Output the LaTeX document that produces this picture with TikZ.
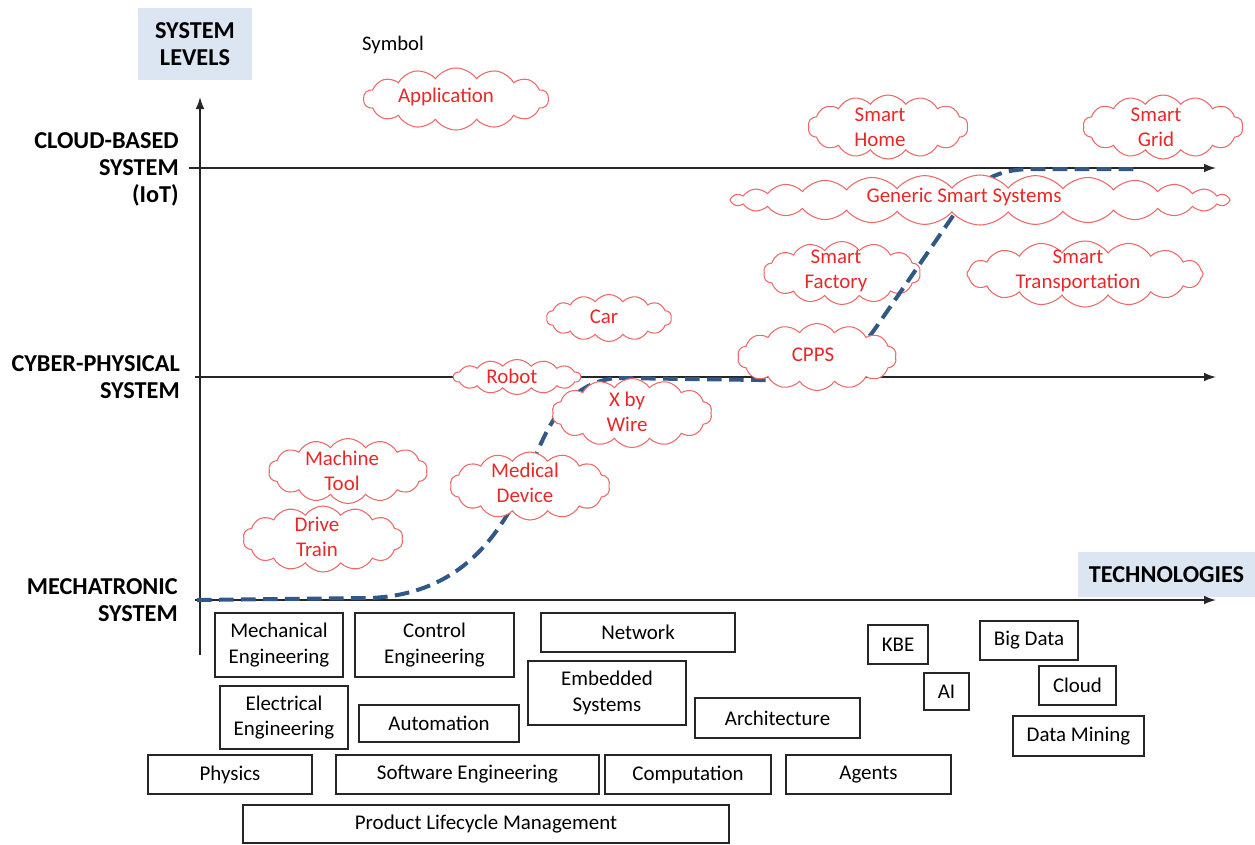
\documentclass[tikz,border=0pt]{standalone}
\usepackage{fontspec}
\setmainfont{Carlito}
\usetikzlibrary{shapes.symbols,arrows.meta}
\definecolor{cred}{RGB}{232,40,40}
\definecolor{cline}{RGB}{238,105,105}
\definecolor{curveblue}{RGB}{50,88,135}
\definecolor{lblue}{RGB}{220,230,242}
\begin{document}
\begin{tikzpicture}[x=0.75pt,y=-0.75pt,
  tbox/.style 2 args={draw=black!85, line width=0.9pt, minimum width=#1*0.75pt, minimum height=#2*0.75pt,
    inner sep=0pt, align=center, font=\fontsize{15.7}{19.3}\selectfont},
  cl/.style 2 args={cloud, cloud puffs=14, cloud puff arc=110, cloud ignores aspect, draw=cline, line width=0.8pt, fill=white,
    minimum width=#1*0.75pt, minimum height=#2*0.75pt, inner sep=0pt},
  ct/.style={text=cred, align=center, inner sep=0pt, font=\fontsize{15.7}{18.8}\selectfont},
  axlab/.style={anchor=east, align=right, inner sep=0pt, font=\bfseries\fontsize{18.2}{20.3}\selectfont},
  axis/.style={line width=1.1pt, black!85, -{Latex[length=9pt,width=6.5pt]}},
  hdr/.style 2 args={fill=lblue, minimum width=#1*0.75pt, minimum height=#2*0.75pt, inner sep=0pt, align=center,
    font=\bfseries\fontsize{18.2}{20.3}\selectfont},
  curve/.style={curveblue, line width=3pt, dash pattern=on 11pt off 5.5pt}
]
\useasboundingbox (0,0) rectangle (1255,844);

% headers
\node[hdr={114}{72}] (levels) at (195,44) {SYSTEM\\LEVELS};
\node[hdr={177}{45}] (tech) at (1166.5,574.5) {TECHNOLOGIES};
\node[inner sep=0pt, font=\fontsize{15.5}{18}\selectfont] (sym) at (393,45) {Symbol};

% axes
\coordinate (ybot) at (200,655);
\coordinate (ytop) at (200,97);
\coordinate (c0) at (189,168);
\coordinate (c1) at (1216,168);
\coordinate (p0) at (195,377);
\coordinate (p1) at (1216,377);
\coordinate (m0) at (195,600);
\coordinate (m1) at (1216,600);
\draw[axis] (ybot) -- (ytop);
\draw[axis] (c0) -- (c1);
\draw[axis] (p0) -- (p1);
\draw[axis] (m0) -- (m1);

\node[axlab] (lcloud) at (179,169) {CLOUD-BASED\\SYSTEM\\(IoT)};
\node[axlab] (lcps) at (180,377) {CYBER-PHYSICAL\\SYSTEM};
\node[axlab] (lmech) at (178,600) {MECHATRONIC\\SYSTEM};

% cloud under the curve
\node[cl={157}{63}] (sfac) at (842,273) {};
\node[ct] (sfact) at (836,271) {Smart\\Factory};

% dashed evolution curve
\draw[curve] (197,600) -- (370,598) .. controls (440,595) and (490,560) .. (525,480)
  .. controls (545,435) and (560,385) .. (615,378) -- (760,380)
  .. controls (820,381) and (850,365) .. (877,326) -- (955,213)
  .. controls (975,185) and (990,170) .. (1030,169) -- (1136,169);

% clouds
\node[cl={185}{62}] (app) at (456,99) {};
\node[ct] (appt) at (446,97) {Application};
\node[cl={160}{64}] (home) at (888,127) {};
\node[ct] (homet) at (880,127) {Smart\\Home};
\node[cl={160}{64}] (grid) at (1163,127) {};
\node[ct] (gridt) at (1156,127) {Smart\\Grid};
\node[cl={500}{50}, cloud puffs=28, cloud puff arc=100] (gen) at (980,200) {};
\node[ct] (gent) at (964,197) {Generic Smart Systems};
\node[cl={236}{66}, cloud puffs=16] (strans) at (1085,274) {};
\node[ct] (stranst) at (1078,271) {Smart\\Transportation};
\node[cl={125}{47}] (car) at (609,318) {};
\node[ct] (cart) at (604,317) {Car};
\node[cl={159}{67}] (cpps) at (817,357) {};
\node[ct] (cppst) at (813,355) {CPPS};
\node[cl={127}{35}, cloud puffs=14, cloud puff arc=100] (robot) at (517,377) {};
\node[ct] (robott) at (512,376) {Robot};
\node[cl={160}{69}] (xwire) at (632,413) {};
\node[ct] (xwiret) at (627,412) {X by\\Wire};
\node[cl={159}{65}] (mtool) at (348,471) {};
\node[ct] (mtoolt) at (342,471) {Machine\\Tool};
\node[cl={160}{68}] (med) at (530,486) {};
\node[ct] (medt) at (525,483) {Medical\\Device};
\node[cl={160}{66}] (drive) at (323,539) {};
\node[ct] (drivet) at (317,537) {Drive\\Train};

% technology boxes
\node[tbox={128}{64}] (mech) at (279,645) {Mechanical\\Engineering};
\node[tbox={159}{64}] (ctrl) at (434.5,645) {Control\\Engineering};
\node[tbox={194}{39}] (net) at (638,632.5) {Network};
\node[tbox={158}{64}] (emb) at (607,693) {Embedded\\Systems};
\node[tbox={128}{63}] (elec) at (284,717.5) {Electrical\\Engineering};
\node[tbox={160}{37}] (auto) at (439,723.5) {Automation};
\node[tbox={165}{40}] (arch) at (777.5,718) {Architecture};
\node[tbox={164}{39}] (phys) at (230,774.5) {Physics};
\node[tbox={263}{39}] (soft) at (467.5,774.5) {Software Engineering};
\node[tbox={166}{39}] (comp) at (688,774.5) {Computation};
\node[tbox={165}{39}] (agents) at (868.5,774.5) {Agents};
\node[tbox={486}{38}] (plm) at (486,824) {Product Lifecycle Management};
\node[tbox={60}{39}] (kbe) at (898,644.5) {KBE};
\node[tbox={45}{37}] (ai) at (946.5,691.5) {AI};
\node[tbox={98}{39}] (big) at (1029,640.5) {Big Data};
\node[tbox={77}{39}] (cld) at (1077.5,685.5) {Cloud};
\node[tbox={131}{40}] (dm) at (1078.5,736) {Data Mining};
\end{tikzpicture}
\end{document}
